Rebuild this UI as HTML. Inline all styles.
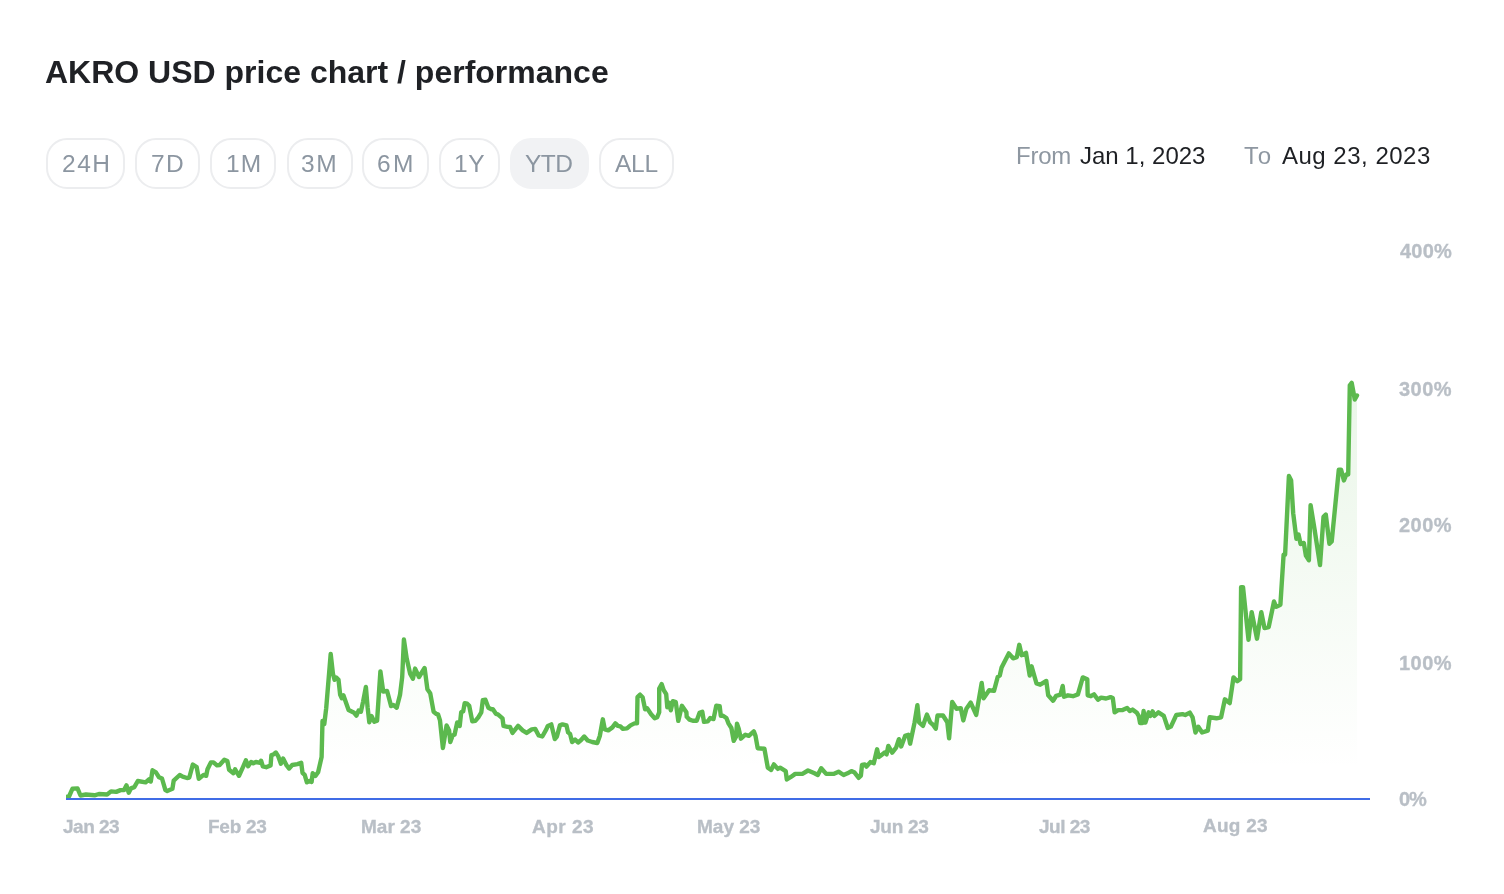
<!DOCTYPE html>
<html><head><meta charset="utf-8">
<style>
html,body{margin:0;padding:0;background:#fff;}
body{width:1504px;height:894px;position:relative;overflow:hidden;font-family:"Liberation Sans",sans-serif;}
.t{position:absolute;white-space:nowrap;line-height:1;-webkit-font-smoothing:antialiased;will-change:transform;}
.btn{position:absolute;top:138px;height:51px;box-sizing:border-box;border:2px solid #ecedef;border-radius:21px;}
.btn.sel{background:#f1f2f4;border-color:#f1f2f4;}
svg{position:absolute;left:0;top:0;}
</style></head><body>
<div class="btn" style="left:46px;width:79px"></div>
<div class="btn" style="left:135px;width:65px"></div>
<div class="btn" style="left:210px;width:66px"></div>
<div class="btn" style="left:287px;width:66px"></div>
<div class="btn" style="left:362px;width:67px"></div>
<div class="btn" style="left:439px;width:61px"></div>
<div class="btn sel" style="left:510px;width:79px"></div>
<div class="btn" style="left:599px;width:75px"></div>
<svg width="1504" height="894" viewBox="0 0 1504 894">
<defs>
<linearGradient id="gr" x1="0" y1="383" x2="0" y2="770" gradientUnits="userSpaceOnUse">
<stop offset="0" stop-color="#5cb94e" stop-opacity="0.13"/>
<stop offset="1" stop-color="#5cb94e" stop-opacity="0"/>
</linearGradient>
<clipPath id="cp"><rect x="66" y="200" width="1310" height="598"/></clipPath>
</defs>
<path d="M66.0 797.0 L69.0 796.5 L72.5 788.6 L77.5 788.4 L80.5 795.5 L85.9 794.5 L94.6 795.3 L98.9 794.0 L107.1 794.5 L111.0 791.4 L116.2 791.9 L120.5 790.1 L124.0 790.1 L126.5 785.4 L128.7 792.7 L130.9 788.4 L134.3 787.1 L137.8 781.0 L145.6 782.4 L149.0 779.3 L150.8 781.5 L152.5 770.3 L155.9 772.4 L159.0 777.2 L162.0 778.5 L165.4 790.1 L167.2 791.0 L172.4 788.8 L173.7 780.6 L179.7 775.0 L182.7 776.7 L187.0 778.0 L189.3 777.5 L192.8 764.6 L196.7 767.2 L198.8 778.8 L203.6 774.9 L206.2 775.8 L207.5 769.3 L210.9 762.4 L213.5 762.4 L217.0 765.4 L219.6 765.0 L224.3 759.8 L227.4 761.1 L229.1 769.8 L233.4 773.2 L235.1 769.3 L239.0 775.8 L243.3 766.3 L245.9 760.3 L248.1 766.3 L251.1 762.0 L253.3 763.3 L255.9 762.0 L260.2 762.8 L261.1 760.7 L262.8 766.3 L266.2 767.2 L270.6 765.4 L271.4 755.1 L273.2 754.6 L275.8 752.5 L278.3 756.4 L280.9 763.7 L283.1 758.5 L286.6 765.4 L289.1 768.5 L292.2 765.0 L297.4 764.1 L301.2 762.8 L302.5 772.8 L304.7 774.9 L306.9 782.3 L309.5 781.0 L311.6 781.9 L312.7 773.2 L315.4 775.9 L318.1 772.3 L321.6 757.1 L322.5 721.0 L324.3 724.0 L326.2 708.3 L330.7 654.0 L332.9 673.6 L334.6 679.8 L336.3 677.5 L338.5 679.8 L340.2 694.9 L341.8 698.2 L343.5 695.4 L348.6 710.0 L354.1 712.8 L356.4 715.6 L358.6 710.5 L360.9 711.7 L363.1 701.6 L365.9 687.0 L367.6 707.2 L369.3 722.3 L371.5 716.1 L374.3 721.7 L377.1 720.6 L380.4 671.4 L383.2 691.5 L387.1 691.0 L391.1 706.1 L393.3 704.9 L396.7 707.7 L400.0 694.9 L402.2 677.0 L403.9 639.5 L406.7 658.5 L410.1 673.6 L412.9 678.7 L415.1 668.6 L419.0 677.0 L424.6 668.0 L427.4 689.3 L430.2 693.2 L433.6 711.7 L436.4 713.9 L438.0 714.3 L440.0 720.4 L442.9 748.0 L446.6 725.4 L449.1 730.4 L450.3 742.0 L452.6 735.5 L454.6 734.5 L457.2 722.4 L459.7 725.9 L461.2 712.3 L463.2 711.3 L464.7 703.2 L467.2 703.7 L469.2 705.8 L472.3 721.4 L475.3 720.9 L478.3 717.3 L481.3 712.3 L482.8 700.2 L485.4 699.7 L488.4 707.8 L491.4 709.3 L492.9 709.3 L495.9 713.8 L497.9 714.3 L502.5 718.3 L503.5 725.9 L507.5 726.9 L510.0 726.9 L512.5 732.9 L516.1 728.4 L518.1 725.9 L522.6 730.4 L526.6 732.9 L531.7 729.4 L535.2 728.9 L538.7 735.5 L542.3 736.5 L546.3 729.4 L547.8 725.9 L551.3 724.4 L554.8 739.0 L556.9 736.5 L559.9 725.4 L562.5 724.4 L566.5 725.4 L568.1 732.4 L570.1 734.0 L572.1 742.0 L575.1 739.5 L578.1 742.5 L581.1 740.0 L584.2 736.5 L587.7 740.5 L592.2 742.0 L597.3 743.0 L599.8 736.0 L602.8 719.3 L604.8 729.4 L608.3 730.4 L612.4 727.4 L615.4 723.4 L617.9 725.9 L620.4 726.4 L622.9 728.9 L627.0 728.4 L630.5 725.4 L634.5 723.4 L637.0 723.4 L637.5 697.2 L640.1 694.7 L642.6 697.2 L645.1 709.3 L647.1 708.3 L651.1 714.3 L654.7 718.3 L657.2 717.3 L659.2 712.3 L659.2 688.6 L661.7 684.1 L663.7 690.1 L666.2 694.2 L667.3 707.3 L668.8 702.7 L670.8 710.3 L672.8 701.2 L675.8 702.2 L678.3 720.9 L681.9 705.8 L686.4 712.3 L686.7 716.8 L689.5 719.6 L692.8 720.8 L696.7 720.8 L699.5 712.9 L702.3 711.8 L704.0 721.9 L707.9 721.3 L710.2 718.0 L713.5 719.1 L716.3 705.7 L719.7 706.2 L720.8 715.7 L723.0 715.7 L726.4 718.0 L728.6 723.6 L731.4 728.0 L733.7 740.9 L735.9 737.0 L737.0 723.6 L738.7 728.6 L740.9 738.7 L745.4 734.7 L748.8 735.9 L753.8 731.4 L755.5 735.9 L757.7 748.2 L764.4 748.7 L767.8 767.7 L771.1 770.0 L773.9 764.4 L777.8 768.9 L780.1 767.7 L785.7 771.1 L786.8 779.5 L791.3 776.7 L795.2 773.9 L802.4 773.9 L808.0 770.5 L814.5 773.3 L817.8 775.0 L821.2 768.3 L826.2 773.9 L833.5 773.9 L838.5 771.7 L843.6 775.0 L847.5 773.3 L851.4 771.1 L854.2 772.2 L858.7 777.8 L860.9 775.6 L862.0 765.0 L864.8 764.4 L866.5 766.6 L870.4 762.1 L873.8 763.3 L877.1 749.3 L878.8 757.1 L881.6 754.9 L884.4 752.6 L886.6 754.3 L888.3 745.9 L892.2 752.6 L896.1 747.6 L898.9 739.2 L901.2 746.5 L905.1 735.9 L908.4 734.7 L910.1 743.7 L914.6 722.4 L917.4 705.1 L919.1 722.4 L923.0 725.8 L926.9 714.6 L930.2 722.4 L933.0 724.7 L935.8 728.6 L937.5 715.5 L943.0 715.5 L947.3 722.3 L949.1 738.2 L952.2 702.0 L956.5 708.7 L960.8 708.1 L963.3 720.4 L966.4 708.7 L970.7 702.6 L976.2 714.9 L981.7 682.9 L983.6 698.3 L989.1 690.3 L994.0 690.9 L997.7 677.0 L999.8 675.5 L1001.6 667.5 L1008.8 653.4 L1013.1 658.3 L1016.8 657.1 L1019.3 644.8 L1021.7 655.2 L1026.0 652.8 L1029.7 675.5 L1031.6 666.3 L1036.5 683.5 L1040.2 684.7 L1046.3 681.0 L1048.2 695.2 L1053.1 700.7 L1056.2 695.8 L1060.5 694.6 L1062.7 686.0 L1064.0 696.7 L1068.0 695.3 L1073.0 696.2 L1077.9 694.4 L1082.8 677.4 L1087.3 679.2 L1087.7 695.3 L1090.9 696.2 L1094.0 694.4 L1098.0 699.8 L1101.1 697.6 L1106.1 698.5 L1110.5 697.1 L1112.8 698.0 L1114.6 712.3 L1118.1 710.1 L1122.6 710.1 L1127.1 707.9 L1129.8 711.0 L1132.5 709.6 L1136.9 712.8 L1138.7 715.9 L1140.1 723.1 L1142.3 723.1 L1143.6 711.0 L1145.4 722.6 L1148.6 712.3 L1150.3 715.9 L1152.6 711.4 L1154.4 715.9 L1158.4 712.3 L1163.8 715.9 L1167.8 728.0 L1170.9 726.6 L1176.3 715.0 L1182.5 714.1 L1185.2 715.0 L1189.8 712.6 L1192.6 717.3 L1195.5 732.5 L1198.3 726.8 L1202.1 732.5 L1207.8 730.6 L1209.7 717.3 L1216.4 718.3 L1221.1 717.3 L1224.9 699.3 L1229.7 703.1 L1233.5 677.4 L1237.3 681.2 L1240.1 679.3 L1241.1 587.1 L1243.0 587.1 L1248.5 639.8 L1251.7 612.1 L1257.0 638.7 L1261.3 612.1 L1264.5 628.1 L1268.7 627.0 L1274.0 601.5 L1276.2 606.8 L1280.4 604.7 L1283.6 554.7 L1285.1 554.7 L1288.9 476.0 L1291.1 480.2 L1293.2 513.2 L1296.4 538.7 L1298.5 534.5 L1300.6 544.0 L1303.8 542.9 L1305.9 555.6 L1308.9 560.3 L1310.6 505.1 L1314.6 529.7 L1320.0 565.0 L1323.5 516.8 L1325.8 514.5 L1329.4 543.8 L1331.7 541.5 L1338.8 469.8 L1341.1 469.8 L1343.9 480.4 L1346.3 474.5 L1348.2 474.5 L1349.8 385.3 L1351.7 382.9 L1354.8 399.5 L1357.0 395.5 L1357.0 798 L66.0 798 Z" fill="url(#gr)" stroke="none"/>
<path clip-path="url(#cp)" d="M66.0 797.0 L69.0 796.5 L72.5 788.6 L77.5 788.4 L80.5 795.5 L85.9 794.5 L94.6 795.3 L98.9 794.0 L107.1 794.5 L111.0 791.4 L116.2 791.9 L120.5 790.1 L124.0 790.1 L126.5 785.4 L128.7 792.7 L130.9 788.4 L134.3 787.1 L137.8 781.0 L145.6 782.4 L149.0 779.3 L150.8 781.5 L152.5 770.3 L155.9 772.4 L159.0 777.2 L162.0 778.5 L165.4 790.1 L167.2 791.0 L172.4 788.8 L173.7 780.6 L179.7 775.0 L182.7 776.7 L187.0 778.0 L189.3 777.5 L192.8 764.6 L196.7 767.2 L198.8 778.8 L203.6 774.9 L206.2 775.8 L207.5 769.3 L210.9 762.4 L213.5 762.4 L217.0 765.4 L219.6 765.0 L224.3 759.8 L227.4 761.1 L229.1 769.8 L233.4 773.2 L235.1 769.3 L239.0 775.8 L243.3 766.3 L245.9 760.3 L248.1 766.3 L251.1 762.0 L253.3 763.3 L255.9 762.0 L260.2 762.8 L261.1 760.7 L262.8 766.3 L266.2 767.2 L270.6 765.4 L271.4 755.1 L273.2 754.6 L275.8 752.5 L278.3 756.4 L280.9 763.7 L283.1 758.5 L286.6 765.4 L289.1 768.5 L292.2 765.0 L297.4 764.1 L301.2 762.8 L302.5 772.8 L304.7 774.9 L306.9 782.3 L309.5 781.0 L311.6 781.9 L312.7 773.2 L315.4 775.9 L318.1 772.3 L321.6 757.1 L322.5 721.0 L324.3 724.0 L326.2 708.3 L330.7 654.0 L332.9 673.6 L334.6 679.8 L336.3 677.5 L338.5 679.8 L340.2 694.9 L341.8 698.2 L343.5 695.4 L348.6 710.0 L354.1 712.8 L356.4 715.6 L358.6 710.5 L360.9 711.7 L363.1 701.6 L365.9 687.0 L367.6 707.2 L369.3 722.3 L371.5 716.1 L374.3 721.7 L377.1 720.6 L380.4 671.4 L383.2 691.5 L387.1 691.0 L391.1 706.1 L393.3 704.9 L396.7 707.7 L400.0 694.9 L402.2 677.0 L403.9 639.5 L406.7 658.5 L410.1 673.6 L412.9 678.7 L415.1 668.6 L419.0 677.0 L424.6 668.0 L427.4 689.3 L430.2 693.2 L433.6 711.7 L436.4 713.9 L438.0 714.3 L440.0 720.4 L442.9 748.0 L446.6 725.4 L449.1 730.4 L450.3 742.0 L452.6 735.5 L454.6 734.5 L457.2 722.4 L459.7 725.9 L461.2 712.3 L463.2 711.3 L464.7 703.2 L467.2 703.7 L469.2 705.8 L472.3 721.4 L475.3 720.9 L478.3 717.3 L481.3 712.3 L482.8 700.2 L485.4 699.7 L488.4 707.8 L491.4 709.3 L492.9 709.3 L495.9 713.8 L497.9 714.3 L502.5 718.3 L503.5 725.9 L507.5 726.9 L510.0 726.9 L512.5 732.9 L516.1 728.4 L518.1 725.9 L522.6 730.4 L526.6 732.9 L531.7 729.4 L535.2 728.9 L538.7 735.5 L542.3 736.5 L546.3 729.4 L547.8 725.9 L551.3 724.4 L554.8 739.0 L556.9 736.5 L559.9 725.4 L562.5 724.4 L566.5 725.4 L568.1 732.4 L570.1 734.0 L572.1 742.0 L575.1 739.5 L578.1 742.5 L581.1 740.0 L584.2 736.5 L587.7 740.5 L592.2 742.0 L597.3 743.0 L599.8 736.0 L602.8 719.3 L604.8 729.4 L608.3 730.4 L612.4 727.4 L615.4 723.4 L617.9 725.9 L620.4 726.4 L622.9 728.9 L627.0 728.4 L630.5 725.4 L634.5 723.4 L637.0 723.4 L637.5 697.2 L640.1 694.7 L642.6 697.2 L645.1 709.3 L647.1 708.3 L651.1 714.3 L654.7 718.3 L657.2 717.3 L659.2 712.3 L659.2 688.6 L661.7 684.1 L663.7 690.1 L666.2 694.2 L667.3 707.3 L668.8 702.7 L670.8 710.3 L672.8 701.2 L675.8 702.2 L678.3 720.9 L681.9 705.8 L686.4 712.3 L686.7 716.8 L689.5 719.6 L692.8 720.8 L696.7 720.8 L699.5 712.9 L702.3 711.8 L704.0 721.9 L707.9 721.3 L710.2 718.0 L713.5 719.1 L716.3 705.7 L719.7 706.2 L720.8 715.7 L723.0 715.7 L726.4 718.0 L728.6 723.6 L731.4 728.0 L733.7 740.9 L735.9 737.0 L737.0 723.6 L738.7 728.6 L740.9 738.7 L745.4 734.7 L748.8 735.9 L753.8 731.4 L755.5 735.9 L757.7 748.2 L764.4 748.7 L767.8 767.7 L771.1 770.0 L773.9 764.4 L777.8 768.9 L780.1 767.7 L785.7 771.1 L786.8 779.5 L791.3 776.7 L795.2 773.9 L802.4 773.9 L808.0 770.5 L814.5 773.3 L817.8 775.0 L821.2 768.3 L826.2 773.9 L833.5 773.9 L838.5 771.7 L843.6 775.0 L847.5 773.3 L851.4 771.1 L854.2 772.2 L858.7 777.8 L860.9 775.6 L862.0 765.0 L864.8 764.4 L866.5 766.6 L870.4 762.1 L873.8 763.3 L877.1 749.3 L878.8 757.1 L881.6 754.9 L884.4 752.6 L886.6 754.3 L888.3 745.9 L892.2 752.6 L896.1 747.6 L898.9 739.2 L901.2 746.5 L905.1 735.9 L908.4 734.7 L910.1 743.7 L914.6 722.4 L917.4 705.1 L919.1 722.4 L923.0 725.8 L926.9 714.6 L930.2 722.4 L933.0 724.7 L935.8 728.6 L937.5 715.5 L943.0 715.5 L947.3 722.3 L949.1 738.2 L952.2 702.0 L956.5 708.7 L960.8 708.1 L963.3 720.4 L966.4 708.7 L970.7 702.6 L976.2 714.9 L981.7 682.9 L983.6 698.3 L989.1 690.3 L994.0 690.9 L997.7 677.0 L999.8 675.5 L1001.6 667.5 L1008.8 653.4 L1013.1 658.3 L1016.8 657.1 L1019.3 644.8 L1021.7 655.2 L1026.0 652.8 L1029.7 675.5 L1031.6 666.3 L1036.5 683.5 L1040.2 684.7 L1046.3 681.0 L1048.2 695.2 L1053.1 700.7 L1056.2 695.8 L1060.5 694.6 L1062.7 686.0 L1064.0 696.7 L1068.0 695.3 L1073.0 696.2 L1077.9 694.4 L1082.8 677.4 L1087.3 679.2 L1087.7 695.3 L1090.9 696.2 L1094.0 694.4 L1098.0 699.8 L1101.1 697.6 L1106.1 698.5 L1110.5 697.1 L1112.8 698.0 L1114.6 712.3 L1118.1 710.1 L1122.6 710.1 L1127.1 707.9 L1129.8 711.0 L1132.5 709.6 L1136.9 712.8 L1138.7 715.9 L1140.1 723.1 L1142.3 723.1 L1143.6 711.0 L1145.4 722.6 L1148.6 712.3 L1150.3 715.9 L1152.6 711.4 L1154.4 715.9 L1158.4 712.3 L1163.8 715.9 L1167.8 728.0 L1170.9 726.6 L1176.3 715.0 L1182.5 714.1 L1185.2 715.0 L1189.8 712.6 L1192.6 717.3 L1195.5 732.5 L1198.3 726.8 L1202.1 732.5 L1207.8 730.6 L1209.7 717.3 L1216.4 718.3 L1221.1 717.3 L1224.9 699.3 L1229.7 703.1 L1233.5 677.4 L1237.3 681.2 L1240.1 679.3 L1241.1 587.1 L1243.0 587.1 L1248.5 639.8 L1251.7 612.1 L1257.0 638.7 L1261.3 612.1 L1264.5 628.1 L1268.7 627.0 L1274.0 601.5 L1276.2 606.8 L1280.4 604.7 L1283.6 554.7 L1285.1 554.7 L1288.9 476.0 L1291.1 480.2 L1293.2 513.2 L1296.4 538.7 L1298.5 534.5 L1300.6 544.0 L1303.8 542.9 L1305.9 555.6 L1308.9 560.3 L1310.6 505.1 L1314.6 529.7 L1320.0 565.0 L1323.5 516.8 L1325.8 514.5 L1329.4 543.8 L1331.7 541.5 L1338.8 469.8 L1341.1 469.8 L1343.9 480.4 L1346.3 474.5 L1348.2 474.5 L1349.8 385.3 L1351.7 382.9 L1354.8 399.5 L1357.0 395.5" fill="none" stroke="#5cb94e" stroke-width="4.4" stroke-linejoin="round" stroke-linecap="round"/>
<rect x="66" y="798" width="1304" height="2" fill="#406ce6"/>
</svg>
<div class="t" style="left:45.0px;top:56.0px;font-size:32px;font-weight:bold;letter-spacing:0.0px;color:#1f2125">AKRO USD price chart / performance</div>
<div class="t" style="left:61.9px;top:152.0px;font-size:24.5px;font-weight:normal;letter-spacing:1.5px;color:#8c96a1">24H</div>
<div class="t" style="left:150.7px;top:152.0px;font-size:24.5px;font-weight:normal;letter-spacing:1.25px;color:#8c96a1">7D</div>
<div class="t" style="left:225.5px;top:152.0px;font-size:24.5px;font-weight:normal;letter-spacing:1.0px;color:#8c96a1">1M</div>
<div class="t" style="left:301.3px;top:152.0px;font-size:24.5px;font-weight:normal;letter-spacing:1.5px;color:#8c96a1">3M</div>
<div class="t" style="left:377.4px;top:152.0px;font-size:24.5px;font-weight:normal;letter-spacing:2.25px;color:#8c96a1">6M</div>
<div class="t" style="left:454.4px;top:152.0px;font-size:24.5px;font-weight:normal;letter-spacing:0.5px;color:#8c96a1">1Y</div>
<div class="t" style="left:524.5px;top:152.0px;font-size:24.5px;font-weight:normal;letter-spacing:-0.5px;color:#8c96a1">YTD</div>
<div class="t" style="left:615.3px;top:152.0px;font-size:24.5px;font-weight:normal;letter-spacing:-0.25px;color:#8c96a1">ALL</div>
<div class="t" style="left:1015.6px;top:144.0px;font-size:24px;font-weight:normal;letter-spacing:-0.25px;color:#8e97a1">From</div>
<div class="t" style="left:1080.2px;top:144.0px;font-size:24px;font-weight:normal;letter-spacing:0.0px;color:#1e2024">Jan 1, 2023</div>
<div class="t" style="left:1244.4px;top:144.0px;font-size:24px;font-weight:normal;letter-spacing:1.75px;color:#8e97a1">To</div>
<div class="t" style="left:1281.9px;top:144.0px;font-size:24px;font-weight:normal;letter-spacing:0.5px;color:#1e2024">Aug 23, 2023</div>
<div class="t" style="left:1400.1px;top:240.7px;font-size:20px;font-weight:bold;letter-spacing:0.25px;color:#b9bfc6;-webkit-text-stroke:0.35px #b9bfc6">400%</div>
<div class="t" style="left:1399.1px;top:378.9px;font-size:20px;font-weight:bold;letter-spacing:0.5px;color:#b9bfc6;-webkit-text-stroke:0.35px #b9bfc6">300%</div>
<div class="t" style="left:1399.1px;top:514.9px;font-size:20px;font-weight:bold;letter-spacing:0.5px;color:#b9bfc6;-webkit-text-stroke:0.35px #b9bfc6">200%</div>
<div class="t" style="left:1399.1px;top:652.9px;font-size:20px;font-weight:bold;letter-spacing:0.5px;color:#b9bfc6;-webkit-text-stroke:0.35px #b9bfc6">100%</div>
<div class="t" style="left:1399.1px;top:789.0px;font-size:20px;font-weight:bold;letter-spacing:-1.0px;color:#b9bfc6;-webkit-text-stroke:0.35px #b9bfc6">0%</div>
<div class="t" style="left:62.8px;top:817.0px;font-size:19px;font-weight:bold;letter-spacing:-0.5px;color:#b9bfc6;-webkit-text-stroke:0.35px #b9bfc6">Jan 23</div>
<div class="t" style="left:207.8px;top:817.0px;font-size:19px;font-weight:bold;letter-spacing:-0.25px;color:#b9bfc6;-webkit-text-stroke:0.35px #b9bfc6">Feb 23</div>
<div class="t" style="left:361.0px;top:817.0px;font-size:19px;font-weight:bold;letter-spacing:0.0px;color:#b9bfc6;-webkit-text-stroke:0.35px #b9bfc6">Mar 23</div>
<div class="t" style="left:532.3px;top:817.0px;font-size:19px;font-weight:bold;letter-spacing:0.5px;color:#b9bfc6;-webkit-text-stroke:0.35px #b9bfc6">Apr 23</div>
<div class="t" style="left:696.7px;top:817.0px;font-size:19px;font-weight:bold;letter-spacing:0.0px;color:#b9bfc6;-webkit-text-stroke:0.35px #b9bfc6">May 23</div>
<div class="t" style="left:869.6px;top:817.0px;font-size:19px;font-weight:bold;letter-spacing:-0.25px;color:#b9bfc6;-webkit-text-stroke:0.35px #b9bfc6">Jun 23</div>
<div class="t" style="left:1038.8px;top:817.0px;font-size:19px;font-weight:bold;letter-spacing:-0.5px;color:#b9bfc6;-webkit-text-stroke:0.35px #b9bfc6">Jul 23</div>
<div class="t" style="left:1203.0px;top:816.3px;font-size:19px;font-weight:bold;letter-spacing:0.25px;color:#b9bfc6;-webkit-text-stroke:0.35px #b9bfc6">Aug 23</div>
</body></html>
